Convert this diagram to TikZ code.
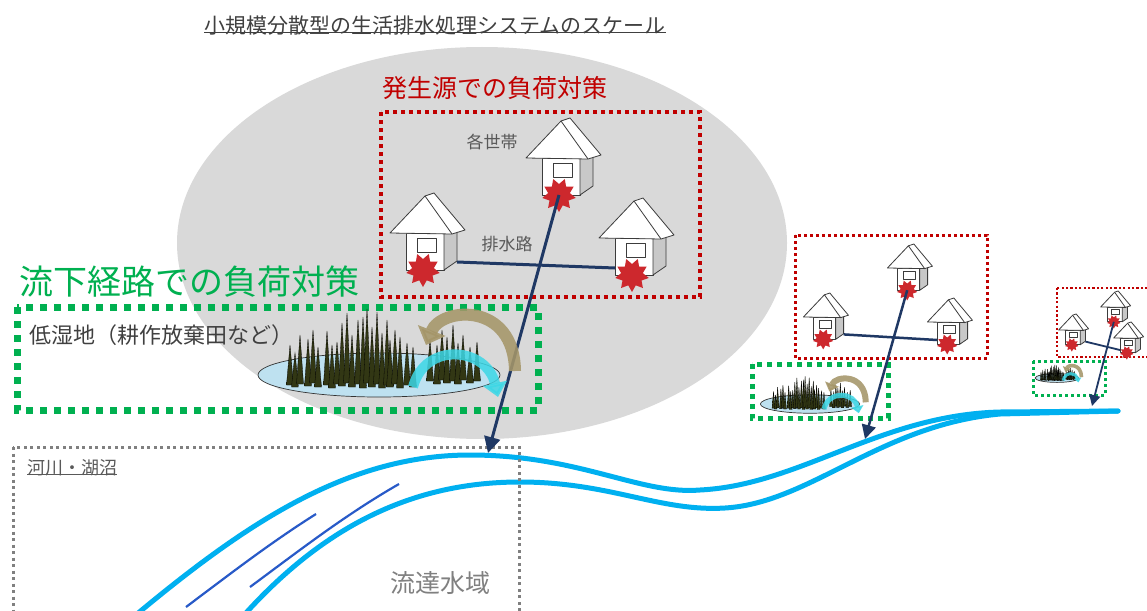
\documentclass[tikz,border=0pt]{standalone}
\usepackage{fontspec}
\setmainfont{Noto Sans CJK JP}
\usetikzlibrary{arrows.meta}

\definecolor{zone}{RGB}{217,217,217}
\definecolor{river}{RGB}{0,176,240}
\definecolor{streak}{RGB}{40,90,200}
\definecolor{drainc}{RGB}{31,56,100}
\definecolor{redbox}{RGB}{192,0,0}
\definecolor{greenbox}{RGB}{0,176,80}
\definecolor{starred}{RGB}{205,40,45}
\definecolor{brownarr}{RGB}{165,150,105}
\definecolor{cyanarr}{RGB}{60,215,230}
\definecolor{pond}{RGB}{190,225,240}
\definecolor{edge}{RGB}{60,60,60}
\definecolor{sidegray}{RGB}{200,200,200}
\definecolor{reeddark}{RGB}{50,55,20}
\definecolor{reedlight}{RGB}{175,185,95}
\definecolor{txtdark}{RGB}{64,64,64}
\definecolor{txtmid}{RGB}{89,89,89}
\definecolor{txtlight}{RGB}{128,128,128}

\newcommand{\fsz}[1]{\fontsize{#1}{#1}\selectfont}

\tikzset{
  outline/.style={draw=edge, line width=0.8, line join=round},
  river line/.style={river, line width=5, line cap=round},
  drain/.style={drainc, line width=#1},
  drain tip/.style={-{Triangle[length=#1, width=#1]}},
  redframe/.style={redbox, line width=#1, dash pattern=on #1 off #1},
  greenframe/.style={greenbox, line width=#1, dash pattern=on #1 off #1},
  label/.style={inner sep=0pt},
  % a house: front wall, side wall, gabled roof, window and load mark
  house/.pic={
    \filldraw[fill=white, outline] (0,0) rectangle (38,37);
    \filldraw[fill=sidegray, outline] (38,0) -- (51,-8) -- (51,28) -- (38,37) -- cycle;
    \filldraw[fill=white, outline] (-16,0) -- (19,-37) -- (28,-40) -- (59,-3) -- (46,1) -- cycle;
    \draw[outline] (19,-37) -- (46,1);
    \filldraw[fill=white, outline] (11,5) rectangle (30,19);
    \fill[starred, shift={(17,37)}] (90:17)
      \foreach \i in {1,...,17} { -- (90+\i*20:{17-6*mod(\i,2)}) } -- cycle;
    \coordinate (-s) at (17,37);
    \coordinate (-r) at (51,29);
    \coordinate (-l) at (0,30);
  },
  % a wetland: pond, reeds and the circulating flow arrows
  wetland/.pic={
    \filldraw[fill=pond, draw=black!80, line width=0.7] (0,0) ellipse [x radius=121, y radius=22];
    \foreach \x/\b/\t in {
      51/6/-35, 58/9/-30, 63/5/-45, 68/8/-38, 74/6/-50, 79/9/-32, 84/5/-40, 91/8/-28, 98/6/-33,
      -89/10/-30, -84/12/-22, -79/9/-40, -71/11/-36, -66/8/-45, -61/12/-28, -52/10/-44,
      -47/13/-30, -42/9/-33, -37/11/-52, -32/8/-62, -27/12/-40, -21/9/-55, -16/13/-58,
      -12/8/-66, -7/12/-48, -2/9/-63, 3/13/-42, 8/10/-55, 11/12/-35, 16/9/-45, 21/13/-38,
      28/10/-32, 34/12/-28}
      \shadedraw[left color=reeddark, middle color=reedlight, right color=reeddark,
                 draw=black, line width=0.3]
        (\x-3.5,\b) -- (\x,\t) -- (\x+3.5,\b) -- cycle;
    \draw[brownarr, opacity=0.88, line width=12*#1,
          -{Triangle[length=0pt 1.3, width=0pt 2.4]}]
      (136,-4) .. controls (135,-74) and (62,-68) .. (47,-30);
    \draw[cyanarr, opacity=0.85, line width=10*#1,
          -{Triangle[length=0pt 1.4, width=0pt 2.4]}]
      (34,12) .. controls (46,-34) and (108,-28) .. (119,22);
  },
}

\begin{document}
\begin{tikzpicture}[x=1pt, y=-1pt]
\useasboundingbox (0,0) rectangle (1147,610);
\clip (0,0) rectangle (1147,610);
\fill[white] (0,0) rectangle (1147,610);

% scale of the small decentralised system
\fill[zone] (482,243) ellipse [x radius=305, y radius=196];

% river banks and current streaks
\draw[river line] (137,614) .. controls (250,520) and (350,455) .. (470,455)
  .. controls (580,455) and (640,495) .. (700,490)
  .. controls (800,485) and (880,415) .. (1000,412) -- (1118,411);
\draw[river line] (245,614) .. controls (330,520) and (420,482) .. (520,482)
  .. controls (610,482) and (660,512) .. (725,508)
  .. controls (810,503) and (880,425) .. (1000,414) -- (1118,411);
\draw[streak, line width=2.2] (186,607) .. controls (230,574) and (270,543) .. (316,514);
\draw[streak, line width=2.2] (250,587) .. controls (300,550) and (345,515) .. (399,484);

% receiving water body
\draw[txtlight, line width=3, dash pattern=on 3 off 3.5] (13,447) rectangle (519,640);
\node[label, anchor=west, text=txtmid, font=\fsz{18}] (lake) at (27,468) {河川・湖沼};
\draw[txtmid, line width=0.8] ([yshift=2]lake.south west) -- ([yshift=2]lake.south east);
\node[label, text=txtlight, font=\fsz{25}] (reach) at (440,583) {流達水域};

% headings
\node[label, text=txtdark, font=\fsz{21}] (title) at (435,26) {小規模分散型の生活排水処理システムのスケール};
\draw[txtdark, line width=1] ([yshift=3]title.south west) -- ([yshift=3]title.south east);
\node[label, text=redbox, font=\fsz{25}] (srcmeasure) at (495,88) {発生源での負荷対策};
\node[label, anchor=west, text=greenbox, font=\fsz{34}] (pathmeasure) at (19,282) {流下経路での負荷対策};
\node[label, anchor=west, text=txtdark, font=\fsz{22}] (wetname) at (29,335) {低湿地（耕作放棄田など）};
\node[label, text=txtmid, font=\fsz{17}] (homes) at (492,142) {各世帯};
\node[label, text=txtmid, font=\fsz{17}] (channel) at (507,244) {排水路};

% source-control frames
\draw[redframe=4] (381,112) rectangle (700,297);
\draw[redframe=3] (795,235) rectangle (987,358);
\draw[redframe=2.2] (1057,288) rectangle (1152,357);

% households
\pic (h1) at (406,233) {house};
\pic (h2) at (542,158) {house};
\pic (h3) at (615,238) {house};
\pic[scale=0.6] (m1) at (813,317) {house};
\pic[scale=0.6] (m2) at (897,268) {house};
\pic[scale=0.6] (m3) at (937,322) {house};
\pic[scale=0.4] (f1) at (1065,330) {house};
\pic[scale=0.4] (f2) at (1107,307) {house};
\pic[scale=0.4] (f3) at (1120,338) {house};

% flow-path control frames
\draw[greenframe=7] (17,307) rectangle (538,410);
\draw[greenframe=5] (752,364) rectangle (888,418);
\draw[greenframe=3] (1033,361) rectangle (1105,395);

% drainage channels
\coordinate (a1) at (488,453);
\coordinate (a2) at (865,439);
\coordinate (a3) at (1092,406);
\draw[drain=3] (h1-r) -- (h3-l);
\draw[drain=3, drain tip=16] (h2-s) -- (a1);
\draw[drain=2.5] (m1-r) -- (m3-l);
\draw[drain=2.5, drain tip=14] (m2-s) -- (a2);
\draw[drain=1.8] (f1-r) -- (f3-l);
\draw[drain=1.8, drain tip=11] (f2-s) -- (a3);

% wetlands
\pic at (379,375) {wetland=1};
\pic[xscale=0.41, yscale=0.42] at (810,404) {wetland=0.5};
\pic[xscale=0.18, yscale=0.2] at (1057,378) {wetland=0.3};
\end{tikzpicture}
\end{document}
